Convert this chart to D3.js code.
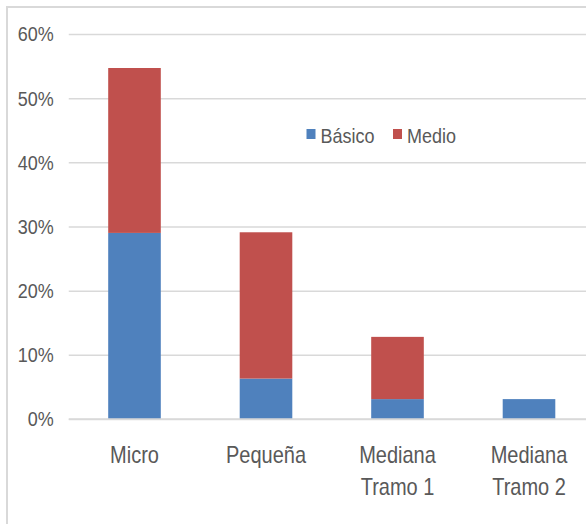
<!DOCTYPE html>
<html>
<head>
<meta charset="utf-8">
<script src="https://cdn.jsdelivr.net/npm/d3@7"></script>
<style>
body { margin: 0; background: #fff; }
text { font-family: "Liberation Sans", Arial, sans-serif; fill: #595959; }
</style>
</head>
<body>
<div id="chart"></div>
<script>
// valores
var categorias = ["Micro", "Pequeña", "Mediana\nTramo 1", "Mediana\nTramo 2"];
var series = ["Básico", "Medio"];
var basico = [0.290, 0.063, 0.031, 0.031];
var medio = [0.257, 0.228, 0.097, 0];
var ticksY = [0, 0.1, 0.2, 0.3, 0.4, 0.5, 0.6];
var colores = ["#4F81BD", "#C0504D"];

var width = 586, height = 524;

var svg = d3.select("#chart").append("svg")
    .attr("width", width)
    .attr("height", height);

// marco del grafico
svg.append("rect")
    .attr("x", 7).attr("y", 7)
    .attr("width", 640).attr("height", 640)
    .attr("fill", "none")
    .attr("stroke", "#d9d9d9")
    .attr("stroke-width", 2);

var y = d3.scaleLinear().domain([0, 0.6]).range([419, 34]);
var x = d3.scaleBand().domain(categorias)
    .range([68.75, 594.75])
    .paddingInner(0.6)
    .paddingOuter(0.3);

var filas = categorias.map(function(c, i) {
    return {cat: c, "Básico": basico[i], "Medio": medio[i]};
});
var apilado = d3.stack().keys(series)(filas);

// lineas de cuadricula + etiquetas
var ejeY = svg.append("g")
    .attr("transform", "translate(68.75,0)")
    .call(d3.axisLeft(y).tickValues(ticksY).tickFormat(d3.format(".0%")).tickSize(-(594.75 - 68.75)).tickPadding(15));
ejeY.select(".domain").remove();
ejeY.selectAll("line").attr("stroke", "#d9d9d9").attr("stroke-width", 1.5);
ejeY.selectAll("text")
    .attr("font-size", 18)
    .style("font-family", "'Liberation Sans', Arial, sans-serif")
    .attr("fill", "#595959")
    .attr("dy", null)
    .attr("dominant-baseline", "central")
    .attr("transform", "scale(1,1.12)");

svg.append("g").selectAll("g")
    .data(apilado)
    .enter()
    .append("g")
    .attr("fill", function(d, i) { return colores[i]; })
    .selectAll("rect")
    .data(function(d) { return d; })
    .enter()
    .append("rect")
    .attr("x", function(d) { return x(d.data.cat); })
    .attr("width", x.bandwidth())
    .attr("y", function(d) { return y(d[1]); })
    .attr("height", function(d) { return y(d[0]) - y(d[1]); });

// eje 0 por encima de las barras
svg.append("line")
    .attr("x1", 68.75).attr("x2", 594.75)
    .attr("y1", y(0)).attr("y2", y(0))
    .attr("stroke", "#d9d9d9").attr("stroke-width", 1.5);

// etiquetas de categorias
var etiquetas = svg.append("g").selectAll("text")
    .data(categorias)
    .enter()
    .append("text")
    .attr("text-anchor", "middle")
    .attr("font-size", 20)
    .attr("transform", function(d) {
        return "translate(" + (x(d) + x.bandwidth() / 2) + ",463) scale(1,1.2)";
    });
etiquetas.selectAll("tspan")
    .data(function(d) { return d.split("\n"); })
    .enter()
    .append("tspan")
    .attr("x", 0)
    .attr("y", function(d, i) { return i * 27; })
    .text(function(d) { return d; });

// leyenda
var leyX = [306.5, 393];
var leyenda = svg.append("g").selectAll("g")
    .data(series)
    .enter()
    .append("g")
    .attr("transform", function(d, i) { return "translate(" + leyX[i] + ",0)"; });
leyenda.append("rect")
    .attr("y", 129).attr("width", 9).attr("height", 10)
    .attr("fill", function(d, i) { return colores[i]; });
leyenda.append("text")
    .attr("x", 14)
    .attr("font-size", 18)
    .attr("transform", "translate(0,143) scale(1,1.15)")
    .text(function(d) { return d; });
</script>
</body>
</html>
